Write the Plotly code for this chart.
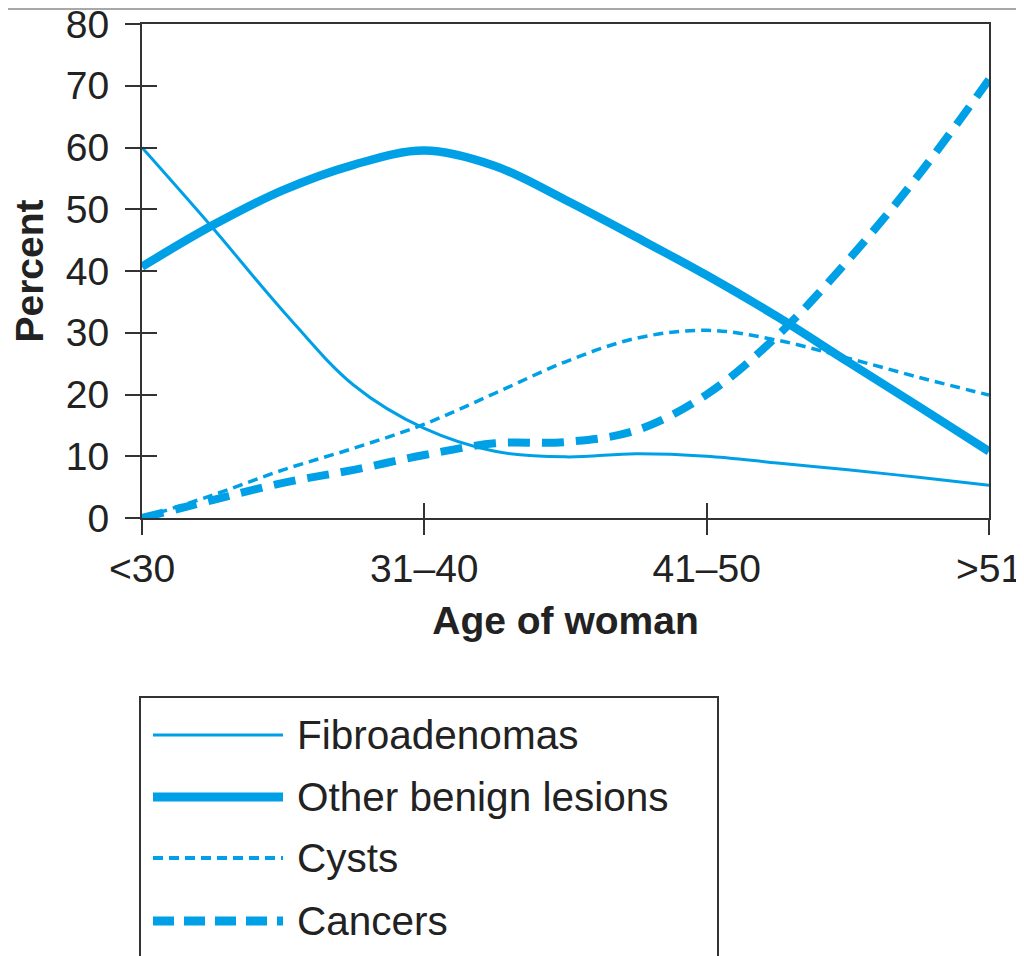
"""
乳腺肿块病理类型随年龄分布图
"""
import plotly.graph_objects as go

# 横轴：年龄段（0..3 对应四个刻度），曲线按每段四等分处读数
AGE_LABELS = ["<30", "31–40", "41–50", ">51"]
AGE_TICKS = [0, 1, 2, 3]
X_READ = [0, 0.25, 0.5, 0.75, 1, 1.25, 1.5, 1.75, 2, 2.25, 2.5, 2.75, 3]

FIBROADENOMAS = [60, 47, 33.5, 21.5, 14.5, 10.8, 9.9, 10.4, 10.0, 8.9, 7.8, 6.6, 5.3]
OTHER_BENIGN = [40.7, 47.4, 53.1, 57.2, 59.5, 57.0, 51.5, 45.5, 39.3, 32.6, 25.3, 18.1, 10.8]
CYSTS = [0, 3.7, 7.8, 11.3, 15.2, 20.2, 25.3, 29.1, 30.4, 28.8, 25.9, 22.8, 19.9]
CANCERS = [0, 2.9, 5.7, 7.8, 10.2, 12.1, 12.3, 14.2, 20.0, 29.5, 41.7, 55.5, 71.0]

SERIES_NAMES = ["Fibroadenomas", "Other benign lesions", "Cysts", "Cancers"]
SERIES_VALUES = [FIBROADENOMAS, OTHER_BENIGN, CYSTS, CANCERS]

Y_RANGE = [0, 80]

# 线型
BLUE = '#00A0E6'
AXIS = '#333333'
LINE_STYLES = [
    dict(width=3, dash='solid'),
    dict(width=8.5, dash='solid'),
    dict(width=3.5, dash='10px,6px'),
    dict(width=8, dash='22px,12px'),
]
LEGEND_STYLES = [
    dict(width=3, dash='solid'),
    dict(width=9, dash='solid'),
    dict(width=4, dash='10px,6px'),
    dict(width=9, dash='21px,10px'),
]

# 页面 body 自带 8px 边距，图按窗口像素减 8 排版
OFF = 8
W, H = 1024 - OFF, 956 - OFF
PL, PR, PT, PB = 142 - OFF, 989 - OFF, 24 - OFF, 518 - OFF
FONT = 'Liberation Sans, Arial, Helvetica, sans-serif'


def xp(px):
    """窗口像素 -> paper 坐标"""
    return (px - OFF - PL) / (PR - PL)


def yp(py):
    return (PB - (py - OFF)) / (PB - PT)


def build_figure():
    """生成折线图"""
    fig = go.Figure()

    for name, vals, st in zip(SERIES_NAMES, SERIES_VALUES, LINE_STYLES):
        fig.add_trace(go.Scatter(
            x=X_READ, y=vals, name=name, mode='lines',
            line=dict(color=BLUE, width=st['width'], dash=st['dash'],
                      shape='spline', smoothing=1.0),
            showlegend=False,
        ))

    # 叠加轴，只画向内的刻度，与外刻度合成十字刻度
    fig.add_trace(go.Scatter(x=[], y=[], xaxis='x2', yaxis='y2',
                             showlegend=False, hoverinfo='skip'))

    tick_common = dict(ticklen=15, tickwidth=2, tickcolor=AXIS,
                       showgrid=False, zeroline=False, automargin=False)

    fig.update_layout(
        width=W, height=H,
        margin=dict(l=PL, r=W - PR, t=PT, b=H - PB),
        template='plotly_white',
        plot_bgcolor='white', paper_bgcolor='white',
        font=dict(family=FONT, size=39, color='#222222'),
        showlegend=False,
        xaxis=dict(
            range=[0, 3], tickvals=AGE_TICKS, ticktext=AGE_LABELS,
            ticks='outside', showline=True, linewidth=2, linecolor=AXIS,
            mirror=True, ticklabelstandoff=0, ticklabeloverflow='allow',
            title=dict(text='<b>Age of woman</b>', standoff=18,
                       font=dict(size=39)),
            **tick_common,
        ),
        yaxis=dict(
            range=Y_RANGE, dtick=10, tick0=0,
            ticks='outside', showline=True, linewidth=2, linecolor=AXIS,
            mirror=True, ticklabelstandoff=8, ticklabeloverflow='allow',
            title=dict(text='<b>Percent</b>', standoff=16,
                       font=dict(size=39)),
            **tick_common,
        ),
        xaxis2=dict(
            overlaying='x', anchor='y2', side='bottom', range=[0, 3],
            tickvals=AGE_TICKS, ticks='inside', showticklabels=False,
            showline=False, **tick_common,
        ),
        yaxis2=dict(
            overlaying='y', anchor='x2', side='left', range=Y_RANGE,
            dtick=10, tick0=0, ticks='inside', showticklabels=False,
            showline=False, **tick_common,
        ),
    )

    # 顶部灰线（置于底层，不压住刻度文字）
    fig.add_shape(type='rect', xref='paper', yref='paper', layer='below',
                  x0=xp(0), x1=xp(1030), y0=yp(OFF), y1=yp(OFF + 2),
                  line=dict(width=0), fillcolor='#A8A8A8')

    # 图例（方框 + 线样 + 文字）
    fig.add_shape(type='rect', xref='paper', yref='paper',
                  x0=xp(140), x1=xp(718), y0=yp(697), y1=yp(990),
                  line=dict(color=AXIS, width=2), fillcolor='rgba(0,0,0,0)')
    legend_y = [735, 797, 858, 921]
    for name, st, ly in zip(SERIES_NAMES, LEGEND_STYLES, legend_y):
        fig.add_shape(type='line', xref='paper', yref='paper',
                      x0=xp(153), x1=xp(283), y0=yp(ly), y1=yp(ly),
                      line=dict(color=BLUE, width=st['width'], dash=st['dash']))
        fig.add_annotation(text=name, xref='paper', yref='paper',
                           x=xp(295), y=yp(ly), xanchor='left', yanchor='middle',
                           showarrow=False, font=dict(size=40.5, color='#222222'))

    return fig


fig = build_figure()
fig.write_html("out.html")
